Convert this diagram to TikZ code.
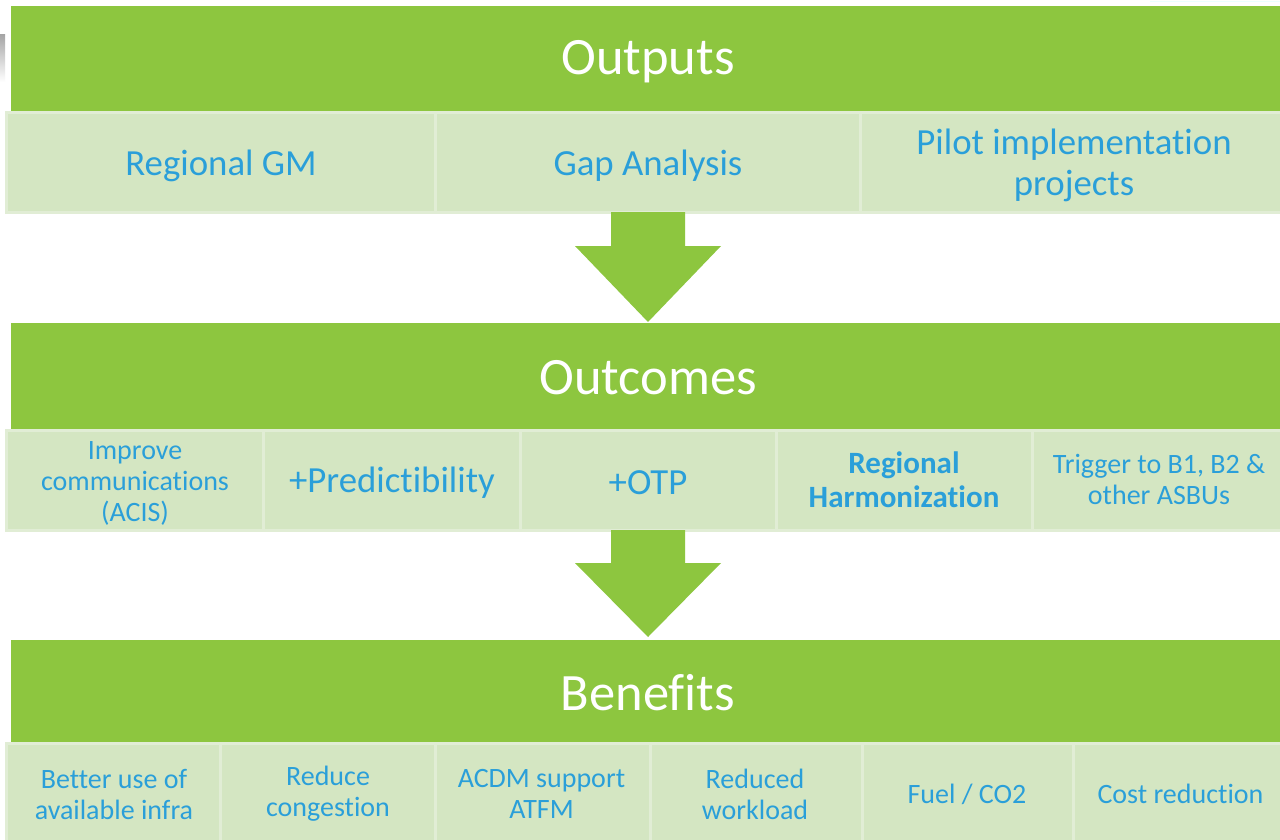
\documentclass[tikz,border=0pt]{standalone}
\usepackage{fontspec}
\setmainfont{Carlito}[Ligatures=NoCommon]
\definecolor{hdrgreen}{HTML}{8DC63F}
\definecolor{cellfill}{HTML}{D4E6C2}
\definecolor{cellline}{HTML}{E1EDD5}
\definecolor{txtblue}{HTML}{2A9FD9}
\begin{document}
\begin{tikzpicture}[x=1pt,y=-1pt,
  header/.style={fill=hdrgreen,draw=none,inner sep=0pt,anchor=center},
  htxt/.style={text=white,inner sep=0pt,font=\fontsize{52.5}{60}\selectfont,anchor=center},
  cell/.style={fill=cellfill,draw=cellline,line width=3pt,inner sep=0pt,anchor=center,minimum height=#1},
  cell/.default=99pt,
  txt/.style={text=txtblue,align=center,inner sep=0pt,anchor=center},
  big/.style={txt,font=\fontsize{36.8}{41}\selectfont},
  small/.style={txt,font=\fontsize{28}{31}\selectfont},
  flow/.style={fill=hdrgreen,draw=none}]
\useasboundingbox (0,0) rectangle (1280,840);
\fill[white] (0,0) rectangle (1280,840);
% small grey decoration at the left edge
\shade[top color=black!35,bottom color=white] (0,35) rectangle (5,82);
\shade[top color=white,bottom color=cyan!15] (1150,0) rectangle (1280,2);

% ---------- Outputs ----------
\node[header,minimum width=1273pt,minimum height=107pt] (hOut) at (647.5,59.5) {};
\node[htxt] (tOut) at (648,61.5) {Outputs};
\node[cell,minimum width=429pt] (c11) at (220.5,162.5) {};
\node[cell,minimum width=425pt] (c12) at (647.5,162.5) {};
\node[cell,minimum width=424pt] (c13) at (1072,162.5) {};
\node[big] (t11) at (221,165.5) {Regional GM};
\node[big] (t12) at (648,165.5) {Gap Analysis};
\node[big] (t13) at (1074,165.5) {Pilot implementation\\projects};

% arrow 1
\fill[flow] (611,212) -- (685,212) -- (685,246) -- (721,246) -- (648,322) -- (575,246) -- (611,246) -- cycle;

% ---------- Outcomes ----------
\node[header,minimum width=1273pt,minimum height=107pt] (hOutc) at (647.5,376.5) {};
\node[htxt] (tOutc) at (648,377.5) {Outcomes};
\node[cell=100pt,minimum width=257pt] (c21) at (134.5,480) {};
\node[cell=100pt,minimum width=257pt] (c22) at (391.5,480) {};
\node[cell=100pt,minimum width=256pt] (c23) at (648,480) {};
\node[cell=100pt,minimum width=256pt] (c24) at (904,480) {};
\node[cell=100pt,minimum width=256pt] (c25) at (1160,480) {};
\node[small] (t21) at (135,483) {Improve\\communications\\(ACIS)};
\node[big] (t22) at (392,483) {+Predictibility};
\node[big] (t23) at (648,483) {+OTP};
\node[txt,font=\fontsize{31}{34}\selectfont\bfseries] (t24) at (904,479.5) {Regional\\Harmonization};
\node[small] (t25) at (1159,479.5) {Trigger to B1, B2 \&\\other ASBUs};

% arrow 2
\fill[flow] (611,530) -- (685,530) -- (685,563) -- (721,563) -- (648,637) -- (575,563) -- (611,563) -- cycle;

% ---------- Benefits ----------
\node[header,minimum width=1273pt,minimum height=103pt] (hBen) at (647.5,691.5) {};
\node[htxt] (tBen) at (648,692.5) {Benefits};
\node[cell=98pt,minimum width=214pt] (c31) at (113,792) {};
\node[cell=98pt,minimum width=215pt] (c32) at (327.5,792) {};
\node[cell=98pt,minimum width=215pt] (c33) at (542.5,792) {};
\node[cell=98pt,minimum width=212pt] (c34) at (756,792) {};
\node[cell=98pt,minimum width=211pt] (c35) at (967.5,792) {};
\node[cell=98pt,minimum width=215pt] (c36) at (1180.5,792) {};
\node[small] (t31) at (114,794) {Better use of\\available infra};
\node[small] (t32) at (328,794) {Reduce\\congestion};
\node[small] (t33) at (541.5,794) {ACDM support\\ATFM};
\node[small] (t34) at (755,794) {Reduced\\workload};
\node[small] (t35) at (967,794) {Fuel / CO2};
\node[small] (t36) at (1180.5,794) {Cost reduction};
\end{tikzpicture}
\end{document}
